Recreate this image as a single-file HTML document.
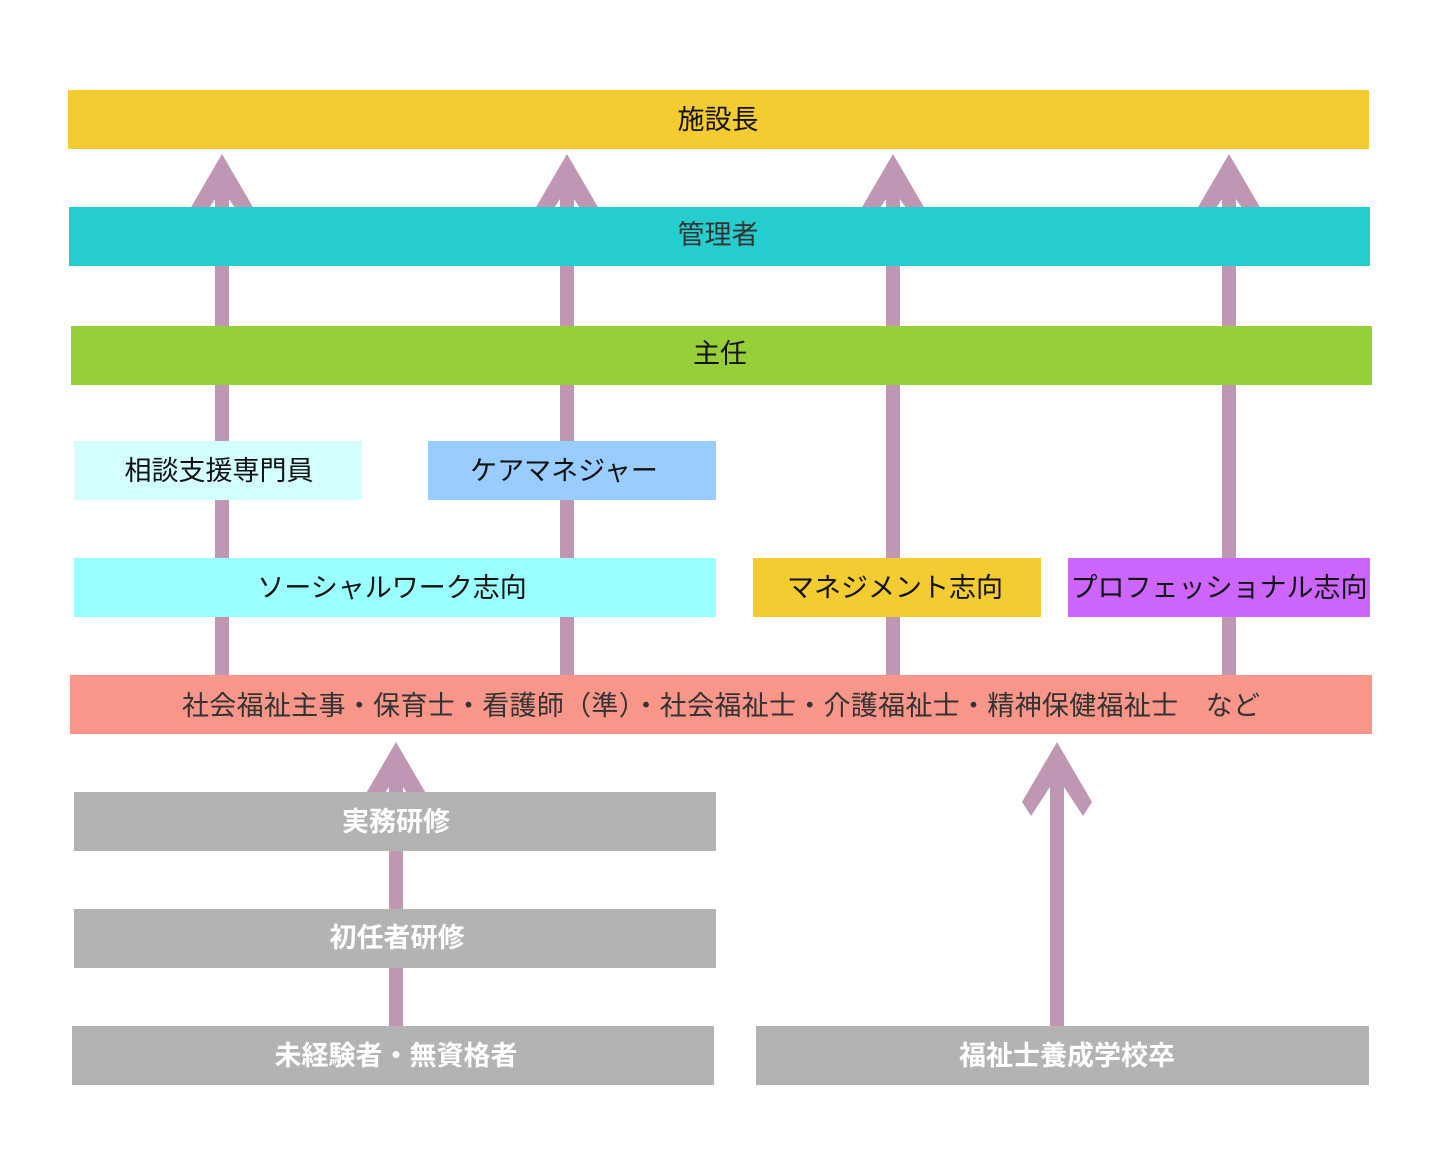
<!DOCTYPE html>
<html lang="ja">
<head>
<meta charset="utf-8">
<style>
  html, body { margin:0; padding:0; background:#ffffff; }
  body { width:1440px; height:1170px; overflow:hidden; }
  svg { display:block; }
  text { font-family: "Liberation Sans", "Noto Sans CJK JP", sans-serif; font-size:27px; }
</style>
</head>
<body>
<svg width="1440" height="1170" viewBox="0 0 1440 1170" xmlns="http://www.w3.org/2000/svg">
  <rect x="0" y="0" width="1440" height="1170" fill="#ffffff"/>

  <!-- Arrows (behind bars) -->
  <g fill="#BF97B4">
    <polygon points="222,154 257,214 248,228 229,199 229,675 215,675 215,199 196,228 187,214"/>
    <polygon points="567,154 602,214 593,228 574,199 574,675 560,675 560,199 541,228 532,214"/>
    <polygon points="893,154 928,214 919,228 900,199 900,675 886,675 886,199 867,228 858,214"/>
    <polygon points="1229,154 1264,214 1255,228 1236,199 1236,675 1222,675 1222,199 1203,228 1194,214"/>
    <polygon points="396,742 431,802 422,816 403,787 403,1026 389,1026 389,787 370,816 361,802"/>
    <polygon points="1057,742 1092,802 1083,816 1064,787 1064,1026 1050,1026 1050,787 1031,816 1022,802"/>
  </g>

  <!-- Bars -->
  <rect x="68" y="90" width="1301" height="59" fill="#F2CC30"/>
  <rect x="69" y="207" width="1301" height="59" fill="#26CDCF"/>
  <rect x="71" y="326" width="1301" height="59" fill="#97CF38"/>

  <rect x="74" y="441" width="288" height="59" fill="#D4FFFF"/>
  <rect x="428" y="441" width="288" height="59" fill="#99CCFF"/>

  <rect x="74" y="558" width="642" height="59" fill="#99FFFF"/>
  <rect x="753" y="558" width="288" height="59" fill="#F2CC30"/>
  <rect x="1068" y="558" width="302" height="59" fill="#CC66FF"/>

  <rect x="70" y="675" width="1302" height="59" fill="#F9968A"/>

  <rect x="74" y="792" width="642" height="59" fill="#B3B3B3"/>
  <rect x="74" y="909" width="642" height="59" fill="#B3B3B3"/>
  <rect x="72" y="1026" width="642" height="59" fill="#B3B3B3"/>
  <rect x="756" y="1026" width="613" height="59" fill="#B3B3B3"/>

  <!-- Labels -->
  <g text-anchor="middle" dominant-baseline="central">
    <text x="718" y="120" fill="#111111">施設長</text>
    <text x="718" y="235" fill="#333333">管理者</text>
    <text x="720" y="354" fill="#111111">主任</text>
    <text x="219" y="471" fill="#111111">相談支援専門員</text>
    <text x="564" y="471" fill="#111111">ケアマネジャー</text>
    <text x="392" y="588" fill="#111111">ソーシャルワーク志向</text>
    <text x="895" y="588" fill="#111111">マネジメント志向</text>
    <text x="1219" y="588" fill="#111111">プロフェッショナル志向</text>
    <text x="721" y="706" fill="#333333" textLength="1078" lengthAdjust="spacing">社会福祉主事・保育士・看護師（準）・社会福祉士・介護福祉士・精神保健福祉士　など</text>
    <text x="396" y="822" fill="#ffffff" font-weight="700">実務研修</text>
    <text x="397" y="938" fill="#ffffff" font-weight="700">初任者研修</text>
    <text x="396" y="1056" fill="#ffffff" font-weight="700">未経験者・無資格者</text>
    <text x="1067" y="1056" fill="#ffffff" font-weight="700">福祉士養成学校卒</text>
  </g>
</svg>
</body>
</html>
